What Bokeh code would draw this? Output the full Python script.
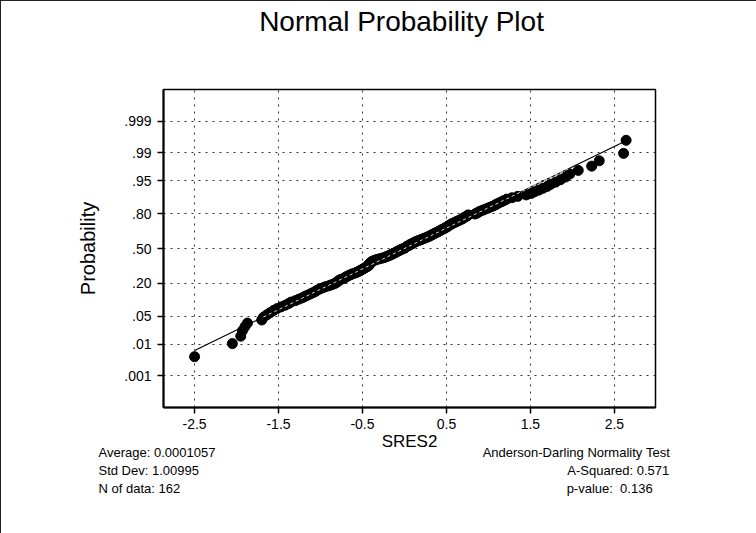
from statistics import NormalDist
from bokeh.plotting import figure
from bokeh.models import (Range1d, FixedTicker, CustomJSTickFormatter, Title,
                          ColumnDataSource)
from bokeh.embed import file_html
from bokeh.resources import INLINE

# ---------------- data ----------------
sres2 = [
    -2.50, -2.05, -1.95, -1.93, -1.90, -1.87, -1.70, -1.68, -1.64, -1.60,
    -1.56, -1.52, -1.47, -1.42, -1.38, -1.35, -1.30, -1.26, -1.22, -1.19,
    -1.16, -1.13, -1.10, -1.07, -1.05, -1.03, -1.00, -0.97, -0.94, -0.90,
    -0.87, -0.84, -0.82, -0.80, -0.79, -0.78, -0.76, -0.73, -0.71, -0.70,
    -0.68, -0.66, -0.64, -0.62, -0.59, -0.57, -0.55, -0.53, -0.52, -0.50,
    -0.49, -0.47, -0.46, -0.44, -0.43, -0.42, -0.42, -0.42, -0.41, -0.40,
    -0.39, -0.38, -0.36, -0.34, -0.31, -0.28, -0.25, -0.23, -0.21, -0.19,
    -0.17, -0.16, -0.14, -0.13, -0.11, -0.10, -0.08, -0.07, -0.05, -0.04,
    -0.02, 0.00, 0.01, 0.02, 0.03, 0.05, 0.06, 0.07, 0.09, 0.10,
    0.12, 0.13, 0.15, 0.17, 0.19, 0.21, 0.23, 0.25, 0.27, 0.29,
    0.30, 0.32, 0.33, 0.35, 0.36, 0.38, 0.40, 0.41, 0.43, 0.44,
    0.46, 0.48, 0.49, 0.51, 0.52, 0.53, 0.55, 0.56, 0.58, 0.60,
    0.62, 0.64, 0.66, 0.68, 0.70, 0.71, 0.73, 0.75, 0.76, 0.84,
    0.86, 0.88, 0.90, 0.93, 0.96, 0.99, 1.02, 1.05, 1.08, 1.10,
    1.13, 1.16, 1.19, 1.22, 1.28, 1.35, 1.45, 1.51, 1.55, 1.60,
    1.65, 1.70, 1.74, 1.80, 1.86, 1.92, 1.97, 2.07, 2.23, 2.32,
    2.61, 2.64,
]
prob_ticks = [0.001, 0.01, 0.05, 0.20, 0.50, 0.80, 0.95, 0.99, 0.999]
prob_labels = [".001", ".01", ".05", ".20", ".50", ".80", ".95", ".99", ".999"]
x_ticks = [-2.5, -1.5, -0.5, 0.5, 1.5, 2.5]
average = 0.0001057
std_dev = 1.00995
n_data = 162
a_squared = 0.571
p_value = 0.136

left_lines = [f"Average: {average}", f"Std Dev: {std_dev}", f"N of data: {n_data}"]
right_lines = ["Anderson-Darling Normality Test", f"A-Squared: {a_squared}",
               f"p-value:  {p_value}"]

# ---------------- transform ----------------
nd = NormalDist()
xs = sorted(sres2)
n = len(xs)
zs = [nd.inv_cdf((i + 1 - 0.3) / (n + 0.4)) for i in range(n)]
z_ticks = [nd.inv_cdf(p) for p in prob_ticks]
lx = [min(xs), max(xs)]
lz = [(v - average) / std_dev for v in lx]
mid_x = [xs[7], xs[-6]]
mid_z = [(v - average) / std_dev for v in mid_x]

FONT = "Liberation Sans"
W, H = 756, 533
FRAME_LEFT = 162

# approximate Arial / Liberation Sans advance widths (em fraction)
_AW = {" ": .278, "\u00a0": .278, "-": .333, ".": .278, ":": .278,
       "A": .667, "D": .722, "N": .722, "S": .667, "T": .611, "P": .667,
       "a": .556, "b": .556, "d": .556, "e": .556, "f": .278, "g": .556,
       "i": .222, "l": .222, "m": .833, "n": .556, "o": .556, "p": .556,
       "q": .556, "r": .333, "s": .5, "t": .278, "u": .556, "v": .5, "y": .5}


def text_width(s, size):
    return sum(_AW.get(c, .556) for c in s) * size


p = figure(width=W, height=H, output_backend="svg", toolbar_location=None,
           x_range=Range1d(-2.87, 2.99), y_range=Range1d(-3.86, 3.86),
           min_border_left=FRAME_LEFT, min_border_right=102,
           min_border_top=88, min_border_bottom=127,
           background_fill_color="white", border_fill_color="white")
p.title_location = None
p.styles = {"border-left": "1px solid #222", "border-top": "1px solid #222"}

p.outline_line_color = "black"
p.outline_line_width = 1.5

# title: a thin spacer next to the frame, then the title text above it
title_text = "Normal Probability Plot"
TITLE_SIZE = 28
spacer = Title(text=" ", text_font=FONT, text_font_size="1px", standoff=50)
p.add_layout(spacer, "above")
main_title = Title(text=title_text, align="left",
                   offset=400 - text_width(title_text, TITLE_SIZE) / 2 - FRAME_LEFT,
                   text_font=FONT, text_font_size=f"{TITLE_SIZE}px",
                   text_font_style="normal", text_color="black", standoff=0)
p.add_layout(main_title, "above")

# axes
p.xaxis.ticker = FixedTicker(ticks=x_ticks)
p.xaxis.formatter = CustomJSTickFormatter(code="return tick.toFixed(1);")
p.yaxis.ticker = FixedTicker(ticks=z_ticks)
p.yaxis.formatter = CustomJSTickFormatter(args=dict(labels=prob_labels),
                                          code="return labels[index];")
for ax in (p.xaxis[0], p.yaxis[0]):
    ax.axis_line_width = 2
    ax.axis_line_color = "black"
    ax.major_tick_in = 0
    ax.major_tick_out = 6
    ax.major_tick_line_width = 1.5
    ax.minor_tick_line_color = None
    ax.major_label_text_font = FONT
    ax.major_label_text_font_size = "14px"
    ax.major_label_text_color = "black"
    ax.axis_label_text_font = FONT
    ax.axis_label_text_font_style = "normal"
    ax.axis_label_text_color = "black"
p.xaxis.axis_label = "SRES2"
p.xaxis.axis_label_text_font_size = "17px"
p.xaxis.major_label_standoff = 5
p.xaxis.axis_label_standoff = 0
p.yaxis.axis_label = "Probability"
p.yaxis.axis_label_text_font_size = "20px"
p.yaxis.major_label_standoff = 6
p.yaxis.axis_label_standoff = 22

# grid
p.xgrid.ticker = FixedTicker(ticks=x_ticks)
p.ygrid.ticker = FixedTicker(ticks=z_ticks)
for g in (p.xgrid[0], p.ygrid[0]):
    g.grid_line_color = "#333333"
    g.grid_line_dash = "2 5"
    g.grid_line_width = 1

# fitted line, points, line on top of the dense part
p.line(lx, lz, line_color="black", line_width=1.2)
src = ColumnDataSource(dict(x=xs, z=zs))
p.scatter("x", "z", source=src, size=10, fill_color="black", line_color="black")
p.line(mid_x, mid_z, line_color="#d8d8d8", line_width=1, line_dash="3 3")

# statistics block under the x axis: one three-line text, right column padded
STAT_SIZE = 13
right_x = [482, 565, 565]
nb = "\u00a0"
rows = []
for left, right, rx in zip(left_lines, right_lines, right_x):
    gap = rx - 97 - text_width(left, STAT_SIZE)
    pad = max(1, round(gap / (0.278 * STAT_SIZE)))
    rows.append(left.replace(" ", nb) + nb * pad + right.replace(" ", nb))
stats = Title(text="\n".join(rows), align="left", offset=97 - FRAME_LEFT,
              text_font=FONT, text_font_size=f"{STAT_SIZE}px",
              text_font_style="normal", text_color="black",
              text_line_height=1.2, standoff=-22)
p.add_layout(stats, "below")

open("out.html", "w").write(file_html(p, INLINE))
